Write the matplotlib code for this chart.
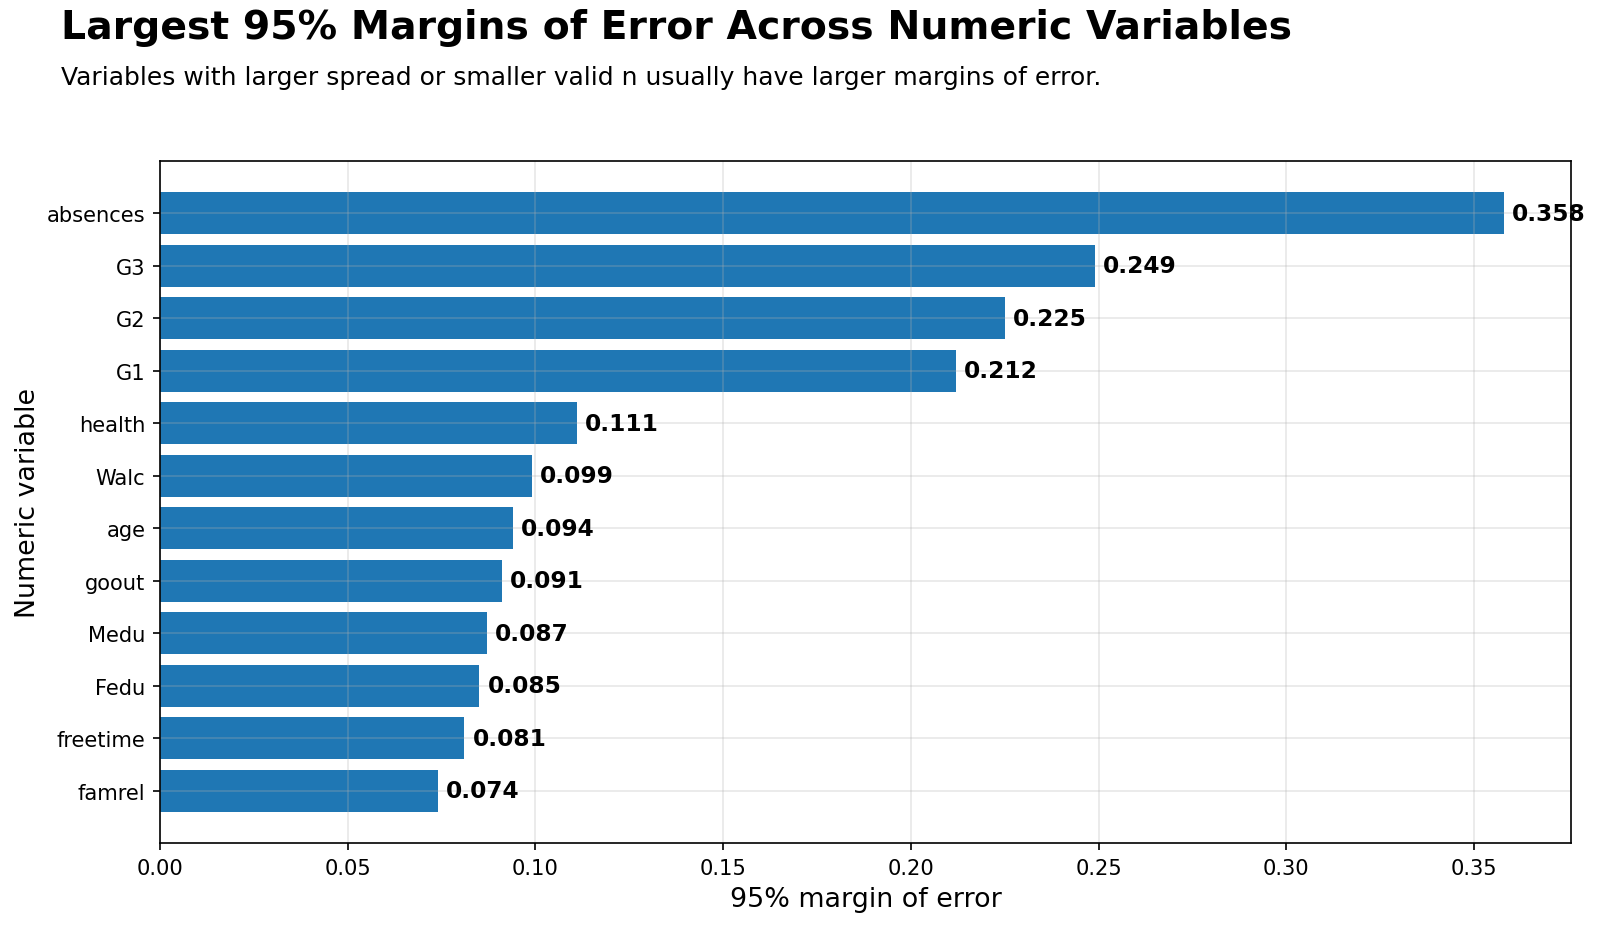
import matplotlib
matplotlib.use("Agg")
import matplotlib.pyplot as plt

variables = ["absences", "G3", "G2", "G1", "health", "Walc", "age", "goout",
             "Medu", "Fedu", "freetime", "famrel"]
margins = [0.358, 0.249, 0.225, 0.212, 0.111, 0.099, 0.094, 0.091,
           0.087, 0.085, 0.081, 0.074]

fig = plt.figure(figsize=(1600/150, 926/150), dpi=150)
ax = fig.add_axes([0.1, 0.0886, 0.882, 0.736])

ypos = list(range(len(variables)))
ax.barh(ypos, margins, height=0.8, color="#1f77b4")
ax.set_yticks(ypos)
ax.set_yticklabels(variables)
ax.invert_yaxis()
ax.set_xlim(0, max(margins) * 1.05)
ax.grid(True, color="#b0b0b0", alpha=0.3, linewidth=0.8)

for y, v in zip(ypos, margins):
    ax.annotate(f"{v:.3f}", xy=(v, y), xytext=(4, 0), textcoords="offset points",
                va="center", ha="left", fontsize=11.2, fontweight="bold")

ax.tick_params(labelsize=10.1)
ax.set_xlabel("95% margin of error", fontsize=12.9)
ax.set_ylabel("Numeric variable", fontsize=12.9, labelpad=3)

fig.text(0.038, 0.99, "Largest 95% Margins of Error Across Numeric Variables",
         fontsize=18.9, fontweight="bold", ha="left", va="top")
fig.text(0.038, 0.929, "Variables with larger spread or smaller valid n usually have larger margins of error.",
         fontsize=12, ha="left", va="top")

fig.savefig("out.png", dpi=150)
